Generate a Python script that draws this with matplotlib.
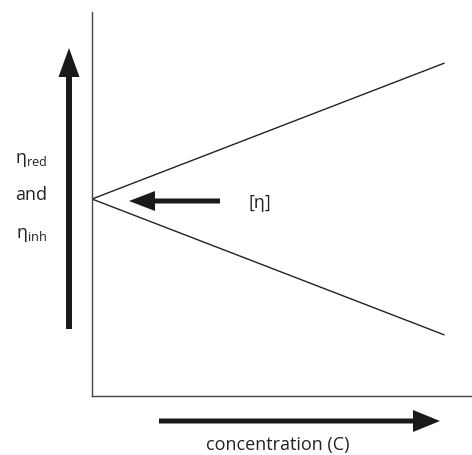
import matplotlib
matplotlib.use("Agg")
import matplotlib.pyplot as plt
from matplotlib.patches import FancyArrow
from matplotlib.transforms import IdentityTransform

plt.rcParams['font.family'] = ['Open Sans', 'DejaVu Sans']
plt.rcParams['mathtext.fontset'] = 'custom'
plt.rcParams['mathtext.rm'] = 'Open Sans'
plt.rcParams['mathtext.it'] = 'Open Sans:italic'

# data (arbitrary units)
concentration = [0.0, 0.93]
eta_red = [0.513, 0.867]
eta_inh = [0.513, 0.159]

x_label = "concentration (C)"
y_label_lines = ["η$_{\\mathrm{red}}$", "and", "η$_{\\mathrm{inh}}$"]
intercept_label = "[η]"

W, H = 472, 455
fig = plt.figure(figsize=(W / 100, H / 100), dpi=100)
ax = fig.add_axes([92 / W, 1 - 396 / H, (471 - 92) / W, (396 - 12) / H])
ax.plot(concentration, eta_red, color='#222222', lw=1.0, solid_capstyle='butt')
ax.plot(concentration, eta_inh, color='#222222', lw=1.0, solid_capstyle='butt')
ax.set_xlim(0, 1)
ax.set_ylim(0, 1)
for s in ['top', 'right']:
    ax.spines[s].set_visible(False)
for s in ['left', 'bottom']:
    ax.spines[s].set_color('#444444')
    ax.spines[s].set_linewidth(1.0)
ax.set_xticks([])
ax.set_yticks([])

ident = IdentityTransform()
def arrow(x0, y0, x1, y1, w, hw, hl):
    a = FancyArrow(x0, H - y0, x1 - x0, -(y1 - y0), width=w, head_width=hw,
                   head_length=hl, length_includes_head=True,
                   transform=ident, color='#1a1a1a', lw=0)
    fig.add_artist(a)

arrow(69, 329, 69, 48, 6, 21, 29)       # vertical arrow
arrow(220, 201, 129, 201, 5, 20, 26)    # intercept arrow
arrow(159, 421, 440, 421, 5, 22, 27)    # concentration arrow

fs = 13
fig.text(260 / W, 1 - 203 / H, intercept_label, ha='center', va='center', fontsize=fs, color='#222222')
fig.text(278 / W, 1 - 445 / H, x_label, ha='center', va='center', fontsize=fs, color='#222222')
for lab, yy in zip(y_label_lines, [160, 195, 235]):
    fig.text(31 / W, 1 - yy / H, lab, ha='center', va='center', fontsize=fs, color='#222222')

fig.savefig("out.png", dpi=100)
